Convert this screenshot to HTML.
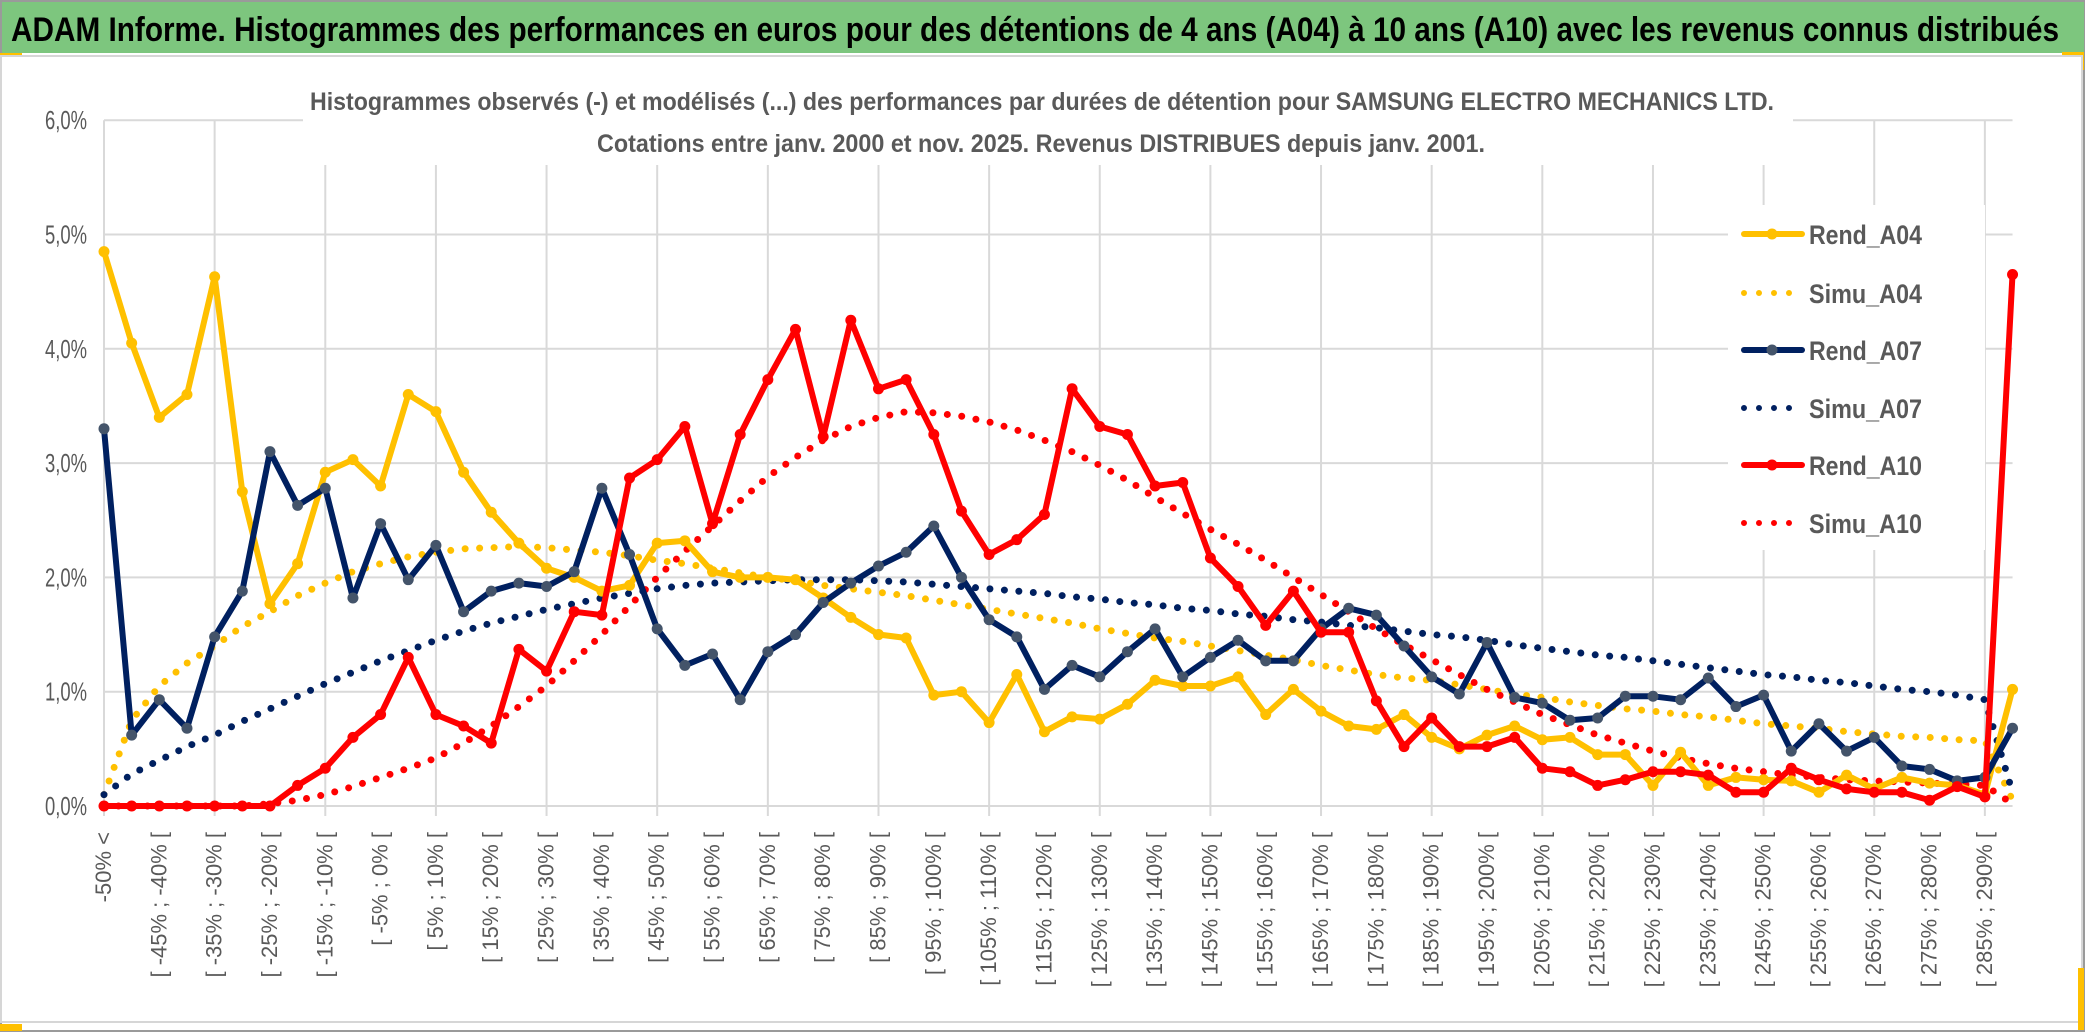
<!DOCTYPE html>
<html><head><meta charset="utf-8"><style>
html,body{margin:0;padding:0;background:#fff;}
svg{display:block;font-family:"Liberation Sans",sans-serif;}
</style></head><body>
<svg id="chart" width="2086" height="1033" viewBox="0 0 2086 1033" xmlns="http://www.w3.org/2000/svg">
<rect x="0" y="0" width="2086" height="1033" fill="#fff"/>
<rect x="1" y="1" width="2083" height="1030" fill="none" stroke="#9a9a9a" stroke-width="2"/>
<rect x="2" y="2" width="2082" height="51" fill="#7dc67e"/>
<text x="11" y="41" font-size="34" font-weight="bold" fill="#000" textLength="2048" lengthAdjust="spacingAndGlyphs">ADAM Informe. Histogrammes des performances en euros pour des détentions de 4 ans (A04) à 10 ans (A10) avec les revenus connus distribués</text>
<rect x="0" y="53" width="22" height="3" fill="#ffc000"/>
<rect x="2062" y="52" width="22" height="3" fill="#ffc000"/>
<rect x="2081" y="52" width="3" height="18" fill="#ffc000"/>
<rect x="1" y="56" width="2081" height="966" fill="none" stroke="#d6d6d6" stroke-width="2"/>
<rect x="0" y="1024" width="22" height="7" fill="#ffc000"/>
<rect x="2078" y="968" width="6" height="62" fill="#ffc000"/>
<g id="grid"></g>
<g id="ylabels"></g>
<g id="xlabels"></g>
<rect x="303" y="75" width="1490" height="90" fill="#fff"/>
<text x="1042" y="110" font-size="25" font-weight="bold" fill="#595959" text-anchor="middle" textLength="1464" lengthAdjust="spacingAndGlyphs">Histogrammes observés (-) et modélisés (...) des performances par durées de détention pour SAMSUNG ELECTRO MECHANICS LTD.</text>
<text x="1041" y="152" font-size="25" font-weight="bold" fill="#595959" text-anchor="middle" textLength="888" lengthAdjust="spacingAndGlyphs">Cotations entre janv. 2000 et nov. 2025. Revenus DISTRIBUES depuis janv. 2001.</text>
<g id="series"></g>
<g id="legend"></g>
</svg>
<script>
const categoriesCount = 70;
const yTicks = [0,1,2,3,4,5,6];
const yTickLabels = ["0,0%","1,0%","2,0%","3,0%","4,0%","5,0%","6,0%"];
const rendA04 = [4.85,4.05,3.4,3.6,4.63,2.75,1.77,2.12,2.92,3.03,2.8,3.6,3.45,2.92,2.57,2.3,2.08,2.0,1.88,1.93,2.3,2.32,2.05,2.0,2.0,1.98,1.82,1.65,1.5,1.47,0.97,1.0,0.73,1.15,0.65,0.78,0.76,0.89,1.1,1.05,1.05,1.13,0.8,1.02,0.83,0.7,0.67,0.8,0.6,0.5,0.62,0.7,0.58,0.6,0.45,0.45,0.18,0.47,0.18,0.25,0.23,0.22,0.12,0.27,0.15,0.25,0.2,0.18,0.1,1.02];
const rendA07 = [3.3,0.62,0.93,0.68,1.48,1.88,3.1,2.63,2.78,1.82,2.47,1.98,2.28,1.7,1.88,1.95,1.92,2.05,2.78,2.2,1.55,1.23,1.33,0.93,1.35,1.5,1.78,1.95,2.1,2.22,2.45,2.0,1.63,1.48,1.02,1.23,1.13,1.35,1.55,1.13,1.3,1.45,1.27,1.27,1.55,1.73,1.67,1.4,1.13,0.98,1.43,0.95,0.9,0.75,0.77,0.96,0.96,0.93,1.12,0.87,0.97,0.48,0.72,0.48,0.6,0.35,0.32,0.22,0.25,0.68];
const rendA10 = [0,0,0,0,0,0,0,0.18,0.33,0.6,0.8,1.3,0.8,0.7,0.55,1.37,1.18,1.7,1.67,2.87,3.03,3.32,2.47,3.25,3.73,4.17,3.23,4.25,3.65,3.73,3.25,2.58,2.2,2.33,2.55,3.65,3.32,3.25,2.8,2.83,2.17,1.92,1.58,1.88,1.52,1.52,0.92,0.52,0.77,0.52,0.52,0.6,0.33,0.3,0.18,0.23,0.3,0.3,0.27,0.12,0.12,0.33,0.23,0.15,0.12,0.12,0.05,0.17,0.08,4.65];
const simuA04 = [0.1,0.75,1.05,1.25,1.4,1.57,1.7,1.84,1.95,2.05,2.12,2.18,2.22,2.25,2.26,2.27,2.26,2.24,2.22,2.19,2.15,2.12,2.08,2.04,2.0,1.97,1.93,1.9,1.87,1.84,1.8,1.76,1.72,1.68,1.64,1.6,1.55,1.51,1.47,1.44,1.4,1.36,1.32,1.28,1.23,1.19,1.15,1.12,1.1,1.06,1.02,0.98,0.95,0.91,0.88,0.85,0.83,0.8,0.78,0.75,0.72,0.7,0.68,0.65,0.63,0.61,0.6,0.58,0.57,0.05];
const simuA07 = [0.1,0.28,0.4,0.52,0.62,0.74,0.85,0.96,1.07,1.17,1.27,1.36,1.45,1.53,1.6,1.66,1.72,1.77,1.82,1.86,1.9,1.93,1.95,1.96,1.97,1.98,1.98,1.98,1.97,1.96,1.94,1.92,1.9,1.88,1.86,1.83,1.81,1.78,1.76,1.73,1.71,1.68,1.66,1.63,1.61,1.58,1.56,1.53,1.5,1.48,1.45,1.41,1.38,1.35,1.32,1.3,1.27,1.24,1.21,1.18,1.15,1.13,1.1,1.08,1.05,1.02,1.0,0.97,0.93,0.12];
const simuA10 = [0,0,0,0,0,0,0.02,0.05,0.1,0.17,0.25,0.33,0.42,0.55,0.7,0.87,1.05,1.27,1.5,1.75,2.0,2.23,2.45,2.67,2.88,3.05,3.2,3.32,3.4,3.45,3.44,3.41,3.36,3.29,3.2,3.1,2.98,2.85,2.7,2.56,2.42,2.29,2.15,2.0,1.85,1.7,1.55,1.41,1.28,1.15,1.02,0.91,0.8,0.71,0.62,0.55,0.48,0.42,0.37,0.33,0.3,0.27,0.25,0.23,0.22,0.21,0.2,0.19,0.18,0.02];
const seriesNames = ["Rend_A04","Simu_A04","Rend_A07","Simu_A07","Rend_A10","Simu_A10"];

const NS = "http://www.w3.org/2000/svg";
const X0 = 104, DX = 27.66, Y0 = 806, DY = 114.3;
const xScale = k => X0 + k * DX;
const yScale = v => Y0 - v * DY;
function mk(tag, attrs, parent){ const e = document.createElementNS(NS, tag); for (const k in attrs) e.setAttribute(k, attrs[k]); parent.appendChild(e); return e; }

const grid = document.getElementById('grid');
const plotRight = xScale(categoriesCount - 1);
yTicks.forEach((t,i) => {
  const l = mk('line', {x1:X0, x2:plotRight, y1:yScale(t), y2:yScale(t), stroke:'#d9d9d9', 'stroke-width':2}, grid);
  
  
});
for (let k = 0; k < categoriesCount; k += 4) {
  const l = mk('line', {x1:xScale(k), x2:xScale(k), y1:yScale(6), y2:Y0 + 10, stroke:'#d9d9d9', 'stroke-width':2}, grid);
  
  
}
const yl = document.getElementById('ylabels');
yTicks.forEach((t,i) => {
  const tx = mk('text', {x:87, y:yScale(t) + 9, 'font-size':26, fill:'#595959', 'text-anchor':'end', textLength:42, lengthAdjust:'spacingAndGlyphs'}, yl);
  tx.textContent = yTickLabels[i];
  
  
});
const xl = document.getElementById('xlabels');
for (let k = 0; k < categoriesCount - 1; k += 2) {
  const lab = k === 0 ? "-50% <" : "[ " + (-50 + 5*(k-1)) + "% ; " + (-45 + 5*(k-1)) + "% [";
  const x = xScale(k) + 7, y = 832;
  const tx = mk('text', {x:x, y:y, 'font-size':22, fill:'#595959', 'text-anchor':'end', transform:'rotate(-90 ' + x + ' ' + y + ')'}, xl);
  tx.textContent = lab;
  
  
}

const ser = document.getElementById('series');
function pts(arr){ return arr.map((v,k) => xScale(k).toFixed(1) + ',' + yScale(v).toFixed(1)).join(' '); }
function dotted(arr, color, name){
  const p = mk('polyline', {points:pts(arr), fill:'none', stroke:color, 'stroke-width':7, 'stroke-linecap':'round', 'stroke-linejoin':'round', 'stroke-dasharray':'0 14.5'}, ser);
  
  
}
function solid(arr, color, mcolor, name){
  const g = mk('g', {}, ser);
  
  
  mk('polyline', {points:pts(arr), fill:'none', stroke:color, 'stroke-width':6, 'stroke-linejoin':'round', 'stroke-linecap':'round'}, g);
  arr.forEach((v,k) => {
    const c = mk('circle', {cx:xScale(k), cy:yScale(v), r:5.5, fill:mcolor}, g);
    
    
  });
}
dotted(simuA04, '#ffc000', 'simu-a04-line');
dotted(simuA07, '#002060', 'simu-a07-line');
dotted(simuA10, '#ff0000', 'simu-a10-line');
solid(rendA04, '#ffc000', '#ffc000', 'rend-a04-line');
solid(rendA07, '#002060', '#44546a', 'rend-a07-line');
solid(rendA10, '#ff0000', '#ff0000', 'rend-a10-line');

const lg = document.getElementById('legend');
const bg = mk('rect', {x:1728, y:205, width:257, height:345, fill:'#fff'}, lg);


const legColors = ['#ffc000','#ffc000','#002060','#002060','#ff0000','#ff0000'];
const legMarker = ['#ffc000',null,'#44546a',null,'#ff0000',null];
const legY = [234,293,350,408,465,523];
seriesNames.forEach((n,i) => {
  const g = mk('g', {}, lg);
  
  
  const y = legY[i];
  if (legMarker[i]) {
    mk('line', {x1:1744, x2:1802, y1:y, y2:y, stroke:legColors[i], 'stroke-width':6, 'stroke-linecap':'round'}, g);
    mk('circle', {cx:1772, cy:y, r:5.5, fill:legMarker[i]}, g);
  } else {
    const x2 = i === 5 ? 1800 : 1790;
    mk('line', {x1:1744, x2:x2, y1:y, y2:y, stroke:legColors[i], 'stroke-width':6, 'stroke-linecap':'round', 'stroke-dasharray':'0 15'}, g);
  }
  const t = mk('text', {x:1809, y:y + 10, 'font-size':27, 'font-weight':'bold', fill:'#595959', textLength:113, lengthAdjust:'spacingAndGlyphs'}, g);
  t.textContent = n;
});
</script>
</body></html>
